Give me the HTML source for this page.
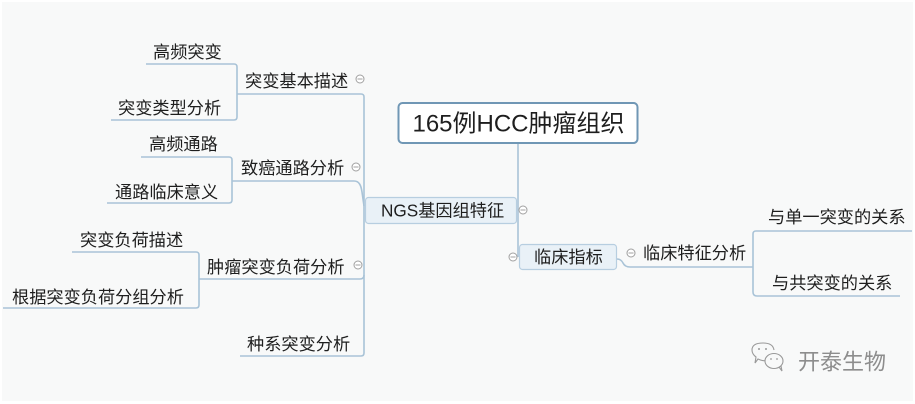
<!DOCTYPE html>
<html><head><meta charset="utf-8"><style>
html,body{margin:0;padding:0;background:#fff;}
svg{display:block;}
text{font-family:"Liberation Sans","Noto Sans CJK SC",sans-serif;fill:#1e1e1e;}
.t{font-size:17.2px;dominant-baseline:central;}
.ln{fill:none;stroke:#a9c3d7;stroke-width:1.6;}
.ic circle{fill:#fff;stroke:#a0a0a0;stroke-width:1;}
.ic line{stroke:#a0a0a0;stroke-width:1;}
</style></head><body>
<svg width="915" height="404" viewBox="0 0 915 404" xmlns="http://www.w3.org/2000/svg">
<rect x="0" y="0" width="915" height="404" fill="#ffffff"/>
<rect x="2" y="2" width="911" height="399" fill="#f8f9f9"/>

<!-- connectors -->
<path class="ln" d="M518 143 L518 257"/>
<path class="ln" d="M237 94 L361 94 Q364 94 364 97 L364 353 Q364 356 361 356 L240 356"/>
<path class="ln" d="M232 181 L354 181 C359 181 361 185 362 192 L364 206"/>
<path class="ln" d="M199 279 L360 279 Q364 279 364 275"/>
<path class="ln" d="M146 64 L234 64 Q237 64 237 67 L237 117 Q237 120 234 120 L111 120"/>
<path class="ln" d="M141 157 L229 157 Q232 157 232 160 L232 200 Q232 203 229 203 L107 203"/>
<path class="ln" d="M72 252 L196 252 Q199 252 199 255 L199 305 Q199 308 196 308 L3 308"/>
<path class="ln" d="M617 259 Q621 259 623 263 Q625 267 630 267 L753 267"/>
<path class="ln" d="M912 231 L756 231 Q753 231 753 234 L753 292 Q753 296 757 296 L900 296"/>

<!-- root -->
<rect x="398.5" y="103" width="239" height="40" rx="4" fill="#ffffff" stroke="#7097b5" stroke-width="2"/>
<text x="518.5" y="124" font-size="24" text-anchor="middle" dominant-baseline="central">165例HCC肿瘤组织</text>

<!-- NGS -->
<rect x="365.5" y="197.5" width="151" height="26" rx="3" fill="#e9f1f7" stroke="#b7cee0" stroke-width="1.2"/>
<text class="t" x="381" y="210.5">NGS基因组特征</text>

<!-- 临床指标 -->
<rect x="519.5" y="244.5" width="97" height="25" rx="3" fill="#e9f1f7" stroke="#b7cee0" stroke-width="1.2"/>
<text class="t" x="534" y="257">临床指标</text>

<!-- left labels -->
<text class="t" x="153" y="52">高频突变</text>
<text class="t" x="118" y="108">突变类型分析</text>
<text class="t" x="245" y="81">突变基本描述</text>
<text class="t" x="149" y="144">高频通路</text>
<text class="t" x="115" y="192">通路临床意义</text>
<text class="t" x="241" y="168">致癌通路分析</text>
<text class="t" x="80" y="240">突变负荷描述</text>
<text class="t" x="12" y="297">根据突变负荷分组分析</text>
<text class="t" x="207" y="267">肿瘤突变负荷分析</text>
<text class="t" x="247" y="344">种系突变分析</text>

<!-- right labels -->
<text class="t" x="643" y="253">临床特征分析</text>
<text class="t" x="768" y="217">与单一突变的关系</text>
<text class="t" x="772" y="283">与共突变的关系</text>

<!-- collapse icons -->
<g class="ic">
<circle cx="360" cy="79" r="4"/><line x1="357.5" y1="79" x2="362.5" y2="79"/>
<circle cx="356" cy="167" r="4"/><line x1="353.5" y1="167" x2="358.5" y2="167"/>
<circle cx="358" cy="265" r="4"/><line x1="355.5" y1="265" x2="360.5" y2="265"/>
<circle cx="523" cy="210" r="4"/><line x1="520.5" y1="210" x2="525.5" y2="210"/>
<circle cx="513" cy="257" r="4"/><line x1="510.5" y1="257" x2="515.5" y2="257"/>
<circle cx="631" cy="253" r="4"/><line x1="628.5" y1="253" x2="633.5" y2="253"/>
</g>

<!-- watermark -->
<g fill="none" stroke="#9a9a9a" stroke-width="1.1">
<path d="M770 360 Q764 362 758 359 L755 363 L756 357 Q752 354 752 350 Q752 343 763 343 Q773 343 774 350"/>
<ellipse cx="774" cy="361" rx="9" ry="7.5" fill="#f8f9f9"/>
<path d="M779 367 L782 371 L781 366"/>
</g>
<g fill="#9a9a9a">
<circle cx="759" cy="349" r="1"/><circle cx="766" cy="349" r="1"/>
<circle cx="771" cy="359" r="0.9"/><circle cx="777" cy="359" r="0.9"/>
</g>
<text x="798" y="362" font-size="22" dominant-baseline="central" style="fill:#8d8d8d">开泰生物</text>
</svg>
</body></html>
